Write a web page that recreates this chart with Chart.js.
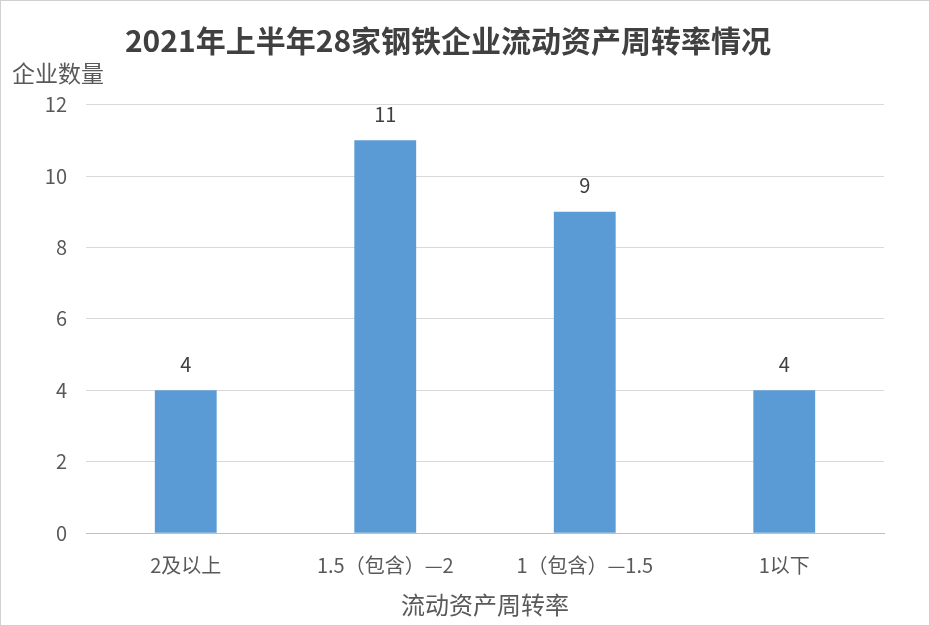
<!DOCTYPE html>
<html>
<head>
<meta charset="utf-8">
<script src="https://cdn.jsdelivr.net/npm/chart.js@4"></script>
<style>
  html, body { margin: 0; padding: 0; background: #fff; }
  #wrap { width: 928px; height: 624px; border: 1px solid #d0d0d0; position: relative; }
</style>
</head>
<body>
<div id="wrap"><canvas id="chart" width="928" height="624"></canvas></div>
<script>
// values
const categories = ['2及以上', '1.5（包含）—2', '1（包含）—1.5', '1以下'];
const companyCounts = [4, 11, 9, 4];
const yTicks = [0, 2, 4, 6, 8, 10, 12];

const FONT = '"Noto Sans CJK SC", "Noto Sans", sans-serif';

// draws the value above each bar
const barLabels = {
    id: 'barLabels',
    afterDatasetsDraw(chart) {
        const ctx = chart.ctx;
        ctx.save();
        ctx.font = '20px ' + FONT;
        ctx.fillStyle = '#404040';
        ctx.textAlign = 'center';
        ctx.textBaseline = 'middle';
        chart.getDatasetMeta(0).data.forEach((bar, i) => {
            ctx.fillText(String(companyCounts[i]), bar.x, bar.y - 26);
        });
        ctx.restore();
    }
};

const ctx = document.getElementById('chart');
const myChart = new Chart(ctx, {
    type: 'bar',
    data: {
        labels: categories,
        datasets: [{
            label: '企业数量',
            data: companyCounts,
            backgroundColor: '#5B9BD5',
            barPercentage: 0.31,
            categoryPercentage: 1.0
        }]
    },
    options: {
        responsive: false,
        animation: false,
        layout: { padding: { left: 11, right: 45, top: 8, bottom: 6 } },
        plugins: {
            legend: { display: false },
            tooltip: { enabled: false },
            title: {
                display: true,
                text: '2021年上半年28家钢铁企业流动资产周转率情况',
                color: '#404040',
                font: { family: FONT, size: 30, weight: 'bold' },
                padding: { top: 14, bottom: 0 }
            },
            subtitle: {
                display: true,
                text: '企业数量',
                align: 'start',
                color: '#595959',
                font: { family: FONT, size: 23 },
                padding: { top: 0, bottom: 18 }
            }
        },
        scales: {
            x: {
                grid: { display: false, drawTicks: false },
                border: { display: true, color: '#bfbfbf' },
                ticks: {
                    color: '#595959',
                    font: { family: FONT, size: 20 },
                    padding: 20
                },
                title: {
                    display: true,
                    text: '流动资产周转率',
                    color: '#595959',
                    font: { family: FONT, size: 24 },
                    padding: { top: -7, bottom: 0 }
                }
            },
            y: {
                min: 0,
                max: 12,
                afterBuildTicks(axis) {
                    axis.ticks = yTicks.map(v => ({ value: v }));
                },
                afterFit(axis) {
                    axis.width = 74;
                },
                grid: { color: '#d9d9d9', drawTicks: false },
                border: { display: false },
                ticks: {
                    color: '#595959',
                    font: { family: FONT, size: 20 },
                    padding: 19
                }
            }
        }
    },
    plugins: [barLabels]
});
</script>
</body>
</html>
